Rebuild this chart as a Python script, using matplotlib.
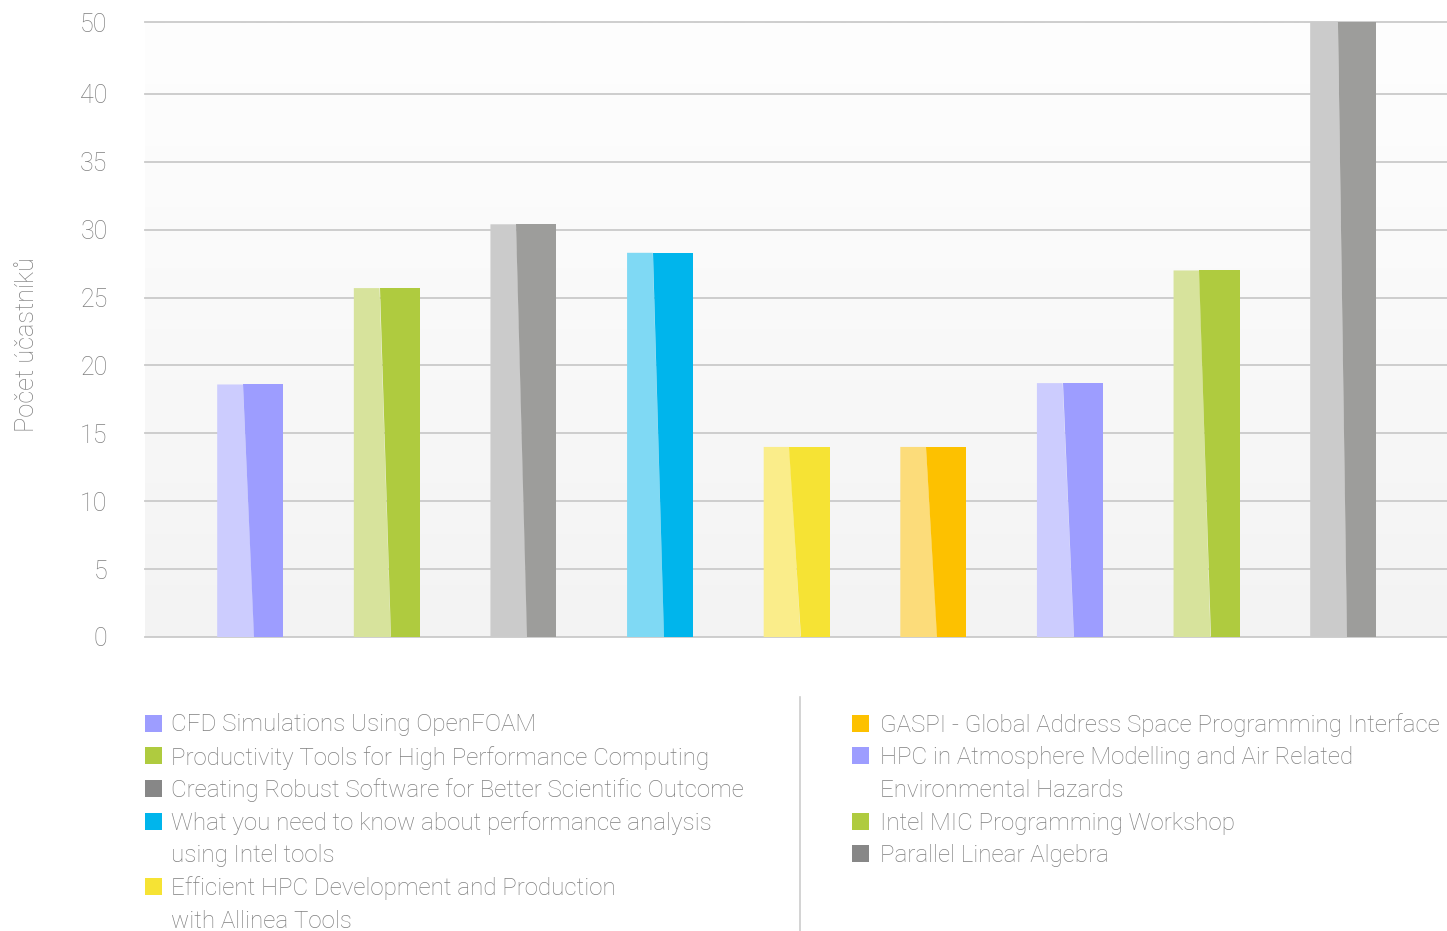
import matplotlib
matplotlib.use('Agg')
import matplotlib.pyplot as plt
import numpy as np
from matplotlib.patches import Polygon, Rectangle
from matplotlib.lines import Line2D
from matplotlib.colors import LinearSegmentedColormap

# ---------------- data ----------------
courses = [
    "CFD Simulations Using OpenFOAM",
    "Productivity Tools for High Performance Computing",
    "Creating Robust Software for Better Scientific Outcome",
    "What you need to know about performance analysis\nusing Intel tools",
    "Efficient HPC Development and Production\nwith Allinea Tools",
    "GASPI - Global Address Space Programming Interface",
    "HPC in Atmosphere Modelling and Air Related\nEnvironmental Hazards",
    "Intel MIC Programming Workshop",
    "Parallel Linear Algebra",
]
participants = [18.6, 25.7, 30.4, 28.3, 14.0, 14.0, 18.7, 27.0, 50]
dark_colors = ["#9d9dff", "#afcb3f", "#9d9d9b", "#00b5ec", "#f6e334",
               "#fdc100", "#9d9dff", "#afcb3f", "#9d9d9b"]
light_colors = ["#ccccfe", "#d7e39c", "#cbcbcb", "#7fd9f4", "#faed8a",
                "#fcdc7a", "#ccccfe", "#d7e39c", "#cbcbcb"]
legend_colors = ["#9d9dff", "#afcb3f", "#878787", "#00b5ec", "#f6e334",
                 "#fdc100", "#9d9dff", "#afcb3f", "#878787"]
ytick_values = [0, 5, 10, 15, 20, 25, 30, 35, 40, 45.3]
ytick_labels = ["0", "5", "10", "15", "20", "25", "30", "35", "40", "50"]
ylabel = "Počet účastníků"

# ---------------- style ----------------
FONT = ["Roboto", "DejaVu Sans"]
plt.rcParams['font.family'] = FONT
TXT = "#7f7f7f"
W, H = 1447, 931
fig = plt.figure(figsize=(W / 100, H / 100), dpi=100)
ax = fig.add_axes([145 / W, (H - 637) / H, (W - 145) / W, (637 - 22) / H])

n = len(participants)
ax.set_xlim(-0.77, n - 1 + 0.76)
ax.set_ylim(0, ytick_values[-1])

# gradient background
grad = np.linspace(0, 1, 256).reshape(-1, 1)
cmap = LinearSegmentedColormap.from_list("bg", ["#f3f3f3", "#f9f9f9", "#fefefe"])
ax.imshow(grad, extent=[0, 1, 0, 1], transform=ax.transAxes, cmap=cmap,
          aspect='auto', origin='lower', zorder=0)

# gridlines
for v in ytick_values:
    ax.axhline(v, color="#cacaca", lw=1.3, zorder=1, clip_on=False)

bw = 0.483
top = ytick_values[-1]
for i, (h, dc, lc) in enumerate(zip(participants, dark_colors, light_colors)):
    x0 = i - bw / 2
    x1 = i + bw / 2
    xb = x0 + 0.56 * bw
    xt = x0 + 0.39 * bw if h <= top else x0 + (0.56 - 0.17 * top / h) * bw
    light = Polygon([(x0, 0), (xb, 0), (xt, h), (x0, h)], closed=True,
                    facecolor=lc, edgecolor='none', zorder=2)
    dark = Polygon([(xb, 0), (x1, 0), (x1, h), (xt, h)], closed=True,
                   facecolor=dc, edgecolor='none', zorder=2)
    ax.add_patch(light)
    ax.add_patch(dark)

for s in ax.spines.values():
    s.set_visible(False)
ax.set_xticks([])
ax.set_yticks(ytick_values)
ax.set_yticklabels(ytick_labels)
ax.tick_params(axis='y', length=0, pad=27, labelsize=18, labelcolor=TXT)
for t in ax.get_yticklabels():
    t.set_fontweight('light')

fig.text(27 / W, 1 - 345 / H, ylabel, rotation=90, ha='center', va='center',
         fontsize=18.3, color=TXT, fontweight='light')

# legend
row_h = 32.7
y0 = 725
cols = [(145, 171), (852, 880)]
split = 5
for col, idxs in enumerate([range(0, split), range(split, n)]):
    mx, tx = cols[col]
    line = 0
    for i in idxs:
        yc = y0 + line * row_h
        fig.patches.append(Rectangle((mx / W, 1 - (yc - 2 + 8.5) / H), 17 / W, 17 / H,
                                     transform=fig.transFigure,
                                     facecolor=legend_colors[i], edgecolor='none'))
        for k, part in enumerate(courses[i].split("\n")):
            fig.text(tx / W, 1 - (yc + k * row_h) / H, part, ha='left', va='center',
                     fontsize=17.4, color=TXT, fontweight='light')
        line += len(courses[i].split("\n"))

fig.add_artist(Line2D([800 / W, 800 / W], [1 - 697 / H, 0], transform=fig.transFigure,
                      color="#cccccc", lw=1.2))

fig.savefig("out.png", dpi=100)
